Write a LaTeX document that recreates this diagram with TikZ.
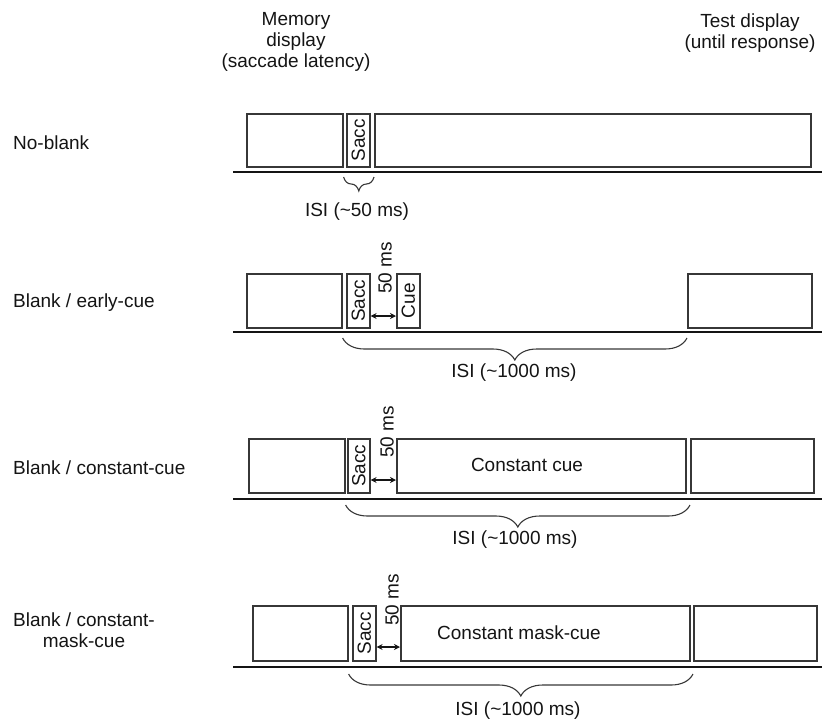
\documentclass[tikz,border=0pt]{standalone}
\usepackage{fontspec}
\setmainfont{Liberation Sans}
\usepackage{graphicx}
\usepackage{tikz}
\usetikzlibrary{arrows.meta,positioning,calc,decorations.pathreplacing}
\definecolor{boxline}{RGB}{55,55,55}
\definecolor{inkblack}{RGB}{20,20,20}
\tikzset{
  screen/.style={rectangle, draw=boxline, line width=1.6pt, inner sep=0pt,
                 anchor=north west, font=\fontsize{19}{21}\selectfont, text=inkblack},
  timeline/.style={line width=2.6pt, inkblack},
  gaparrow/.style={{Stealth[length=6pt,width=6pt]}-{Stealth[length=6pt,width=6pt]}, line width=1.4pt, inkblack},
  isibrace/.style={decorate, decoration={brace, mirror, amplitude=#1}, line width=1.1pt, boxline},
  txt/.style={font=\fontsize{19}{21}\selectfont, text=inkblack, inner sep=0pt, align=center},
  msnote/.style={txt, rotate=90, anchor=west},
}

\begin{document}
\begin{tikzpicture}[x=1pt, y=-1pt]
\useasboundingbox (0,0) rectangle (824,724);

\node[txt] (memhead) at (296,42) {Memory\\display\\(saccade latency)};
\node[txt] (testhead) at (750,33) {Test display\\(until response)};

\node[txt, anchor=west] (row1) at (13,143) {No-blank};
\node[txt, anchor=west] (row2) at (13,303) {Blank / early-cue};
\node[txt, anchor=west] (row3) at (13,468) {Blank / constant-cue};
\node[txt, anchor=west] (row4) at (13,630) {Blank / constant-\\mask-cue};

\node[screen, minimum width=96pt, minimum height=53pt] (m1) at (246,113) {};
\node[screen, minimum width=23pt, minimum height=53pt] (s1) at (346,113) {\rotatebox{90}{Sacc}};
\node[screen, minimum width=436pt, minimum height=53pt] (d1) at (374,113) {};

\node[screen, minimum width=95pt, minimum height=54pt] (m2) at (246,273) {};
\node[screen, minimum width=23pt, minimum height=54pt] (s2) at (346,273) {\rotatebox{90}{Sacc}};
\node[screen, minimum width=23pt, minimum height=54pt] (c2) at (396,273) {\rotatebox{90}{Cue}};
\node[screen, minimum width=124pt, minimum height=54pt] (t2) at (687,273) {};

\node[screen, minimum width=96pt, minimum height=54pt] (m3) at (248,438) {};
\node[screen, minimum width=22pt, minimum height=54pt] (s3) at (347,438) {\rotatebox{90}{Sacc}};
\node[screen, minimum width=289pt, minimum height=54pt] (c3) at (396,438) {};
\node[screen, minimum width=123pt, minimum height=54pt] (t3) at (690,438) {};
\node[txt] (c3text) at (527,465) {Constant cue};

\node[screen, minimum width=95pt, minimum height=55pt] (m4) at (252,605) {};
\node[screen, minimum width=23pt, minimum height=55pt] (s4) at (352,605) {\rotatebox{90}{Sacc}};
\node[screen, minimum width=289pt, minimum height=55pt] (c4) at (400,605) {};
\node[screen, minimum width=123pt, minimum height=55pt] (t4) at (693,605) {};
\node[txt] (c4text) at (519,633) {Constant mask-cue};

\foreach \r/\y in {1/172, 2/332, 3/499, 4/667} {
  \coordinate (l\r) at (233,\y);
  \coordinate (r\r) at (822,\y);
  \draw[timeline] (l\r) -- (r\r);
}

\node[msnote] (gap2) at (385,294) {50 ms};
\node[msnote] (gap3) at (387,458) {50 ms};
\node[msnote] (gap4) at (392,626) {50 ms};
\foreach \a/\b/\y in {s2/c2/316, s3/c3/480, s4/c4/647}
  \draw[gaparrow] (\a.east |- 0,\y) -- (\b.west |- 0,\y);

\draw[isibrace=14pt] (m1.east |- 0,177) -- (d1.west |- 0,177);
\foreach \m/\t/\y in {m2/t2/338, m3/t3/505, m4/t4/674}
  \draw[isibrace=22pt] (\m.east |- 0,\y) -- (\t.west |- 0,\y);

\node[txt] (isi1) at (357,212) {ISI (\textasciitilde50 ms)};
\node[txt] (isi2) at (514,373) {ISI (\textasciitilde1000 ms)};
\node[txt] (isi3) at (515,540) {ISI (\textasciitilde1000 ms)};
\node[txt] (isi4) at (518,711) {ISI (\textasciitilde1000 ms)};
\end{tikzpicture}
\end{document}
